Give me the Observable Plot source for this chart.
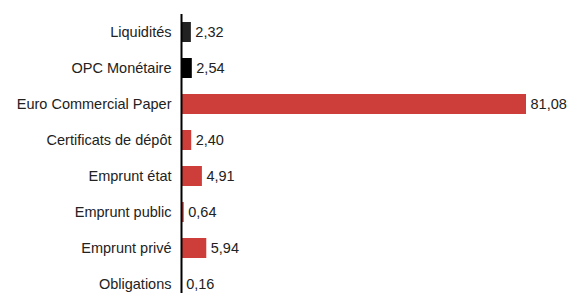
<!DOCTYPE html>
<html>
<head>
<meta charset="utf-8">
<script src="https://cdn.jsdelivr.net/npm/d3@7"></script>
<script src="https://cdn.jsdelivr.net/npm/@observablehq/plot@0.6"></script>
<style>
  html, body { margin: 0; padding: 0; background: #fff; }
  svg { display: block; }
</style>
</head>
<body>
<div id="chart"></div>
<script>
const categories = ["Liquidités", "OPC Monétaire", "Euro Commercial Paper", "Certificats de dépôt", "Emprunt état", "Emprunt public", "Emprunt privé", "Obligations"];
const values = [2.32, 2.54, 81.08, 2.40, 4.91, 0.64, 5.94, 0.16];
const colors = ["#222222", "#000000", "#cd3d39", "#cd3d39", "#cd3d39", "#cd3d39", "#cd3d39", "#cd3d39"];

const data = categories.map((c, i) => ({category: c, value: values[i], color: colors[i]}));
const fmt = v => v.toFixed(2).replace(".", ",");

const chart = Plot.plot({
  width: 568,
  height: 293,
  marginLeft: 181,
  marginRight: 42,
  marginTop: 14,
  marginBottom: 0,
  style: {fontFamily: "'Liberation Sans', Arial, sans-serif", fontSize: "14.5px", color: "#222"},
  x: {domain: [0, 81.08], axis: null},
  y: {domain: categories, range: [14, 302], paddingInner: 0.44, paddingOuter: 0.22, label: null},
  marks: [
    Plot.barX(data, {x: "value", y: "category", fill: "color"}),
    Plot.text(data, {x: "value", y: "category", text: d => fmt(d.value), textAnchor: "start", dx: 4, fontSize: 14.5, fill: "#222"}),
    Plot.axisY({tickSize: 0, tickPadding: 10, fontSize: 14.5, label: null, fill: "#222"}),
    Plot.ruleX([0], {stroke: "#000", strokeWidth: 2})
  ]
});
document.getElementById("chart").appendChild(chart);
</script>
</body>
</html>
